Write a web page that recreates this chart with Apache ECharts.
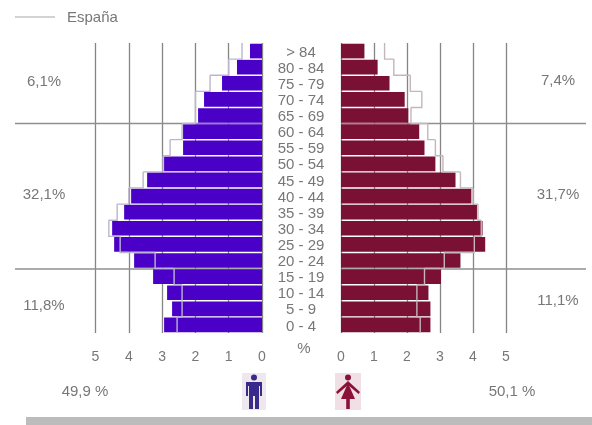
<!DOCTYPE html>
<html><head><meta charset="utf-8">
<style>html,body{margin:0;padding:0;background:#fff}#c{width:592px;height:425px;filter:blur(0.45px)}</style>
<script src="https://cdn.jsdelivr.net/npm/echarts@6/dist/echarts.min.js"></script>
</head><body><div id="c"></div>
<script>
const categories = ['> 84','80 - 84','75 - 79','70 - 74','65 - 69','60 - 64','55 - 59','50 - 54','45 - 49','40 - 44','35 - 39','30 - 34','25 - 29','20 - 24','15 - 19','10 - 14','5 - 9','0 - 4'];
const hombres = [0.36,0.75,1.2,1.74,1.92,2.37,2.37,2.94,3.45,3.93,4.14,4.5,4.44,3.84,3.27,2.85,2.7,2.94];
const mujeres = [0.71,1.11,1.47,1.93,2.04,2.37,2.53,2.86,3.47,3.95,4.12,4.29,4.37,3.62,3.03,2.65,2.71,2.71];
const espanaH = [0.6,1.0,1.56,2.0,2.0,2.4,2.76,2.97,3.57,4.0,4.35,4.6,4.26,3.21,2.64,2.4,2.4,2.55];
const espanaM = [1.32,1.6,2.1,2.45,2.12,2.63,2.86,3.09,3.62,4.0,4.15,4.25,4.04,3.13,2.53,2.3,2.3,2.4];
const ticks = [0,1,2,3,4,5];
const GREY = '#858585', TXT = '#777';
const FF = '"Liberation Sans", Arial, sans-serif';

function stepSeries(values, gridIdx, color){
  return {
    type:'custom', xAxisIndex:gridIdx, yAxisIndex:gridIdx, z:5, silent:true,
    data: values.map((v,i)=>[v,i]),
    encode:{x:0,y:1},
    renderItem(params, api){
      const i = api.value(1);
      const p = api.coord([api.value(0), i]);
      const h = api.size([0,1])[1];
      const pts = [[p[0],p[1]-h/2],[p[0],p[1]+h/2]];
      if(i < values.length-1){
        pts.push([api.coord([values[i+1], i+1])[0], p[1]+h/2]);
      }
      return {type:'polyline', shape:{points:pts}, style:{stroke:color, lineWidth:1.4, fill:null}};
    }
  };
}
function xAxis(gridIdx, inverse){
  return {type:'value', gridIndex:gridIdx, min:0, max:5, interval:1, inverse, position:'bottom',
    axisLine:{show:false}, axisTick:{show:false},
    splitLine:{show:true, lineStyle:{color:GREY, width:1.3}},
    axisLabel:{color:TXT, fontSize:14, fontFamily:FF, margin:17}};
}
const txt = (x,y,s,align)=>({type:'text', x, y, style:{text:s, fill:TXT, font:'15px '+FF, textAlign:align||'center', textVerticalAlign:'middle'}});
const hline = (x1,x2,y)=>({type:'line', z:1, shape:{x1,y1:y,x2,y2:y}, style:{stroke:'#8f8f8f', lineWidth:1.4}});

const chart = echarts.init(document.getElementById('c'), null, {renderer:'canvas'});
chart.setOption({
  animation:false,
  backgroundColor:'#fff',
  grid:[{left:95.5,width:166.5,top:43,height:290},{left:341,width:165,top:43,height:290}],
  xAxis:[xAxis(0,true), xAxis(1,false)],
  yAxis:[
    {type:'category', gridIndex:0, data:categories, inverse:true, axisLine:{show:false}, axisTick:{show:false}, axisLabel:{show:false}, splitLine:{show:false}},
    {type:'category', gridIndex:1, data:categories, inverse:true, axisLine:{show:false}, axisTick:{show:false}, splitLine:{show:false},
     axisLabel:{color:TXT, fontSize:15, fontFamily:FF, margin:40, align:'center', interval:0, verticalAlign:'top', padding:[-6,0,0,0]}}
  ],
  series:[
    {type:'bar', name:'Hombres', xAxisIndex:0, yAxisIndex:0, data:hombres, barWidth:'91%', itemStyle:{color:'#4a00c6'}, z:3, silent:true},
    {type:'bar', name:'Mujeres', xAxisIndex:1, yAxisIndex:1, data:mujeres, barWidth:'91%', itemStyle:{color:'#7a1033'}, z:3, silent:true},
    stepSeries(espanaH,0,'#bdb4cf'),
    stepSeries(espanaM,1,'#c4b6ba')
  ],
  graphic:{elements:[
    {type:'line', shape:{x1:15,y1:17,x2:55,y2:17}, style:{stroke:'#a8a8a8', lineWidth:1.2}},
    txt(67,18,'España','left'),
    hline(15,262,123.5), hline(341,586,123.5), hline(15,262,269), hline(341,586,269),
    txt(44,82,'6,1%'), txt(44,195,'32,1%'), txt(44,306,'11,8%'),
    txt(558,81,'7,4%'), txt(558,195,'31,7%'), txt(558,301,'11,1%'),
    txt(304,349,'%'),
    txt(85,392,'49,9 %'), txt(512,392,'50,1 %'),
    {type:'rect', shape:{x:242,y:373,width:24,height:37}, style:{fill:'#eee8ee'}},
    {type:'circle', shape:{cx:254,cy:377.5,r:3}, style:{fill:'#3a2a8c'}},
    {type:'polygon', shape:{points:[[246,382],[262,382],[262,396],[260,396],[260,386],[259,386],[259,409],[255,409],[255,396],[253,396],[253,409],[249,409],[249,386],[248,386],[248,396],[246,396]]}, style:{fill:'#3a2a8c'}},
    {type:'rect', shape:{x:335,y:373,width:26,height:37}, style:{fill:'#f0dfe4'}},
    {type:'circle', shape:{cx:348,cy:377.5,r:3}, style:{fill:'#8a1238'}},
    {type:'polygon', shape:{points:[[348,381],[360,392],[358.5,394],[348,385],[337.5,394],[336,392]]}, style:{fill:'#8a1238'}},
    {type:'polygon', shape:{points:[[348,383],[355,399],[349.8,399],[349.8,409],[346.2,409],[346.2,399],[341,399]]}, style:{fill:'#8a1238'}},
    {type:'rect', shape:{x:26,y:417,width:566,height:8}, style:{fill:'#bcbcbc'}}
  ]}
});
</script></body></html>
